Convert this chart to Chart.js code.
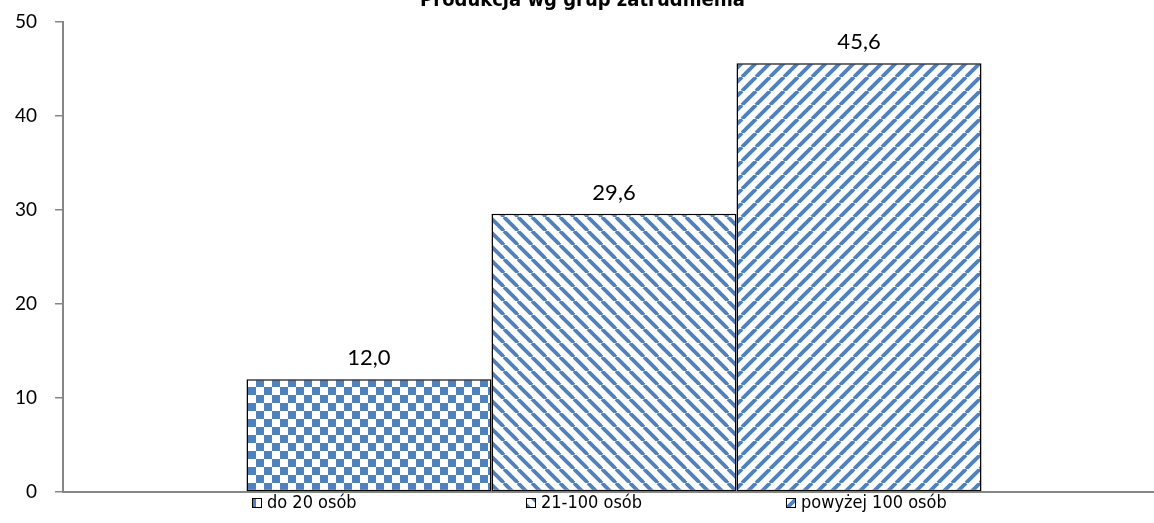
<!DOCTYPE html>
<html>
<head>
<meta charset="utf-8">
<script src="https://cdn.jsdelivr.net/npm/chart.js@4/dist/chart.umd.min.js"></script>
<style>
  html, body { margin: 0; padding: 0; background: #fff; overflow: hidden; width: 1154px; height: 523px; }
  #wrap { position: absolute; left: 0; top: -21px; width: 1170px; height: 551px; }
</style>
</head>
<body>
<div id="wrap"><canvas id="c" width="1170" height="551"></canvas></div>
<script>
// ---- data ----
const chartTitle = 'Produkcja wg grup zatrudnienia';
const categories = [''];
const seriesNames = ['do 20 osób', '21-100 osób', 'powyżej 100 osób'];
const seriesValues = [[12.0], [29.6], [45.6]];
const yTicks = [0, 10, 20, 30, 40, 50];

// ---- styles ----
const BLUE = '#4F81BD';
const AXIS = '#868686';

function makePattern(kind) {
  const c = document.createElement('canvas');
  const ctx = c.getContext('2d');
  if (kind === 'checker') {
    c.width = 16; c.height = 16;
    ctx.fillStyle = '#fff'; ctx.fillRect(0, 0, 16, 16);
    ctx.fillStyle = BLUE;
    ctx.fillRect(0, 0, 8, 8); ctx.fillRect(8, 8, 8, 8);
  } else {
    const s = 14;
    c.width = s; c.height = s;
    ctx.fillStyle = '#fff'; ctx.fillRect(0, 0, s, s);
    ctx.strokeStyle = BLUE; ctx.lineWidth = 3.8;
    for (const x0 of [-s, 0, s]) {
      ctx.beginPath();
      if (kind === 'down') { ctx.moveTo(x0, 0); ctx.lineTo(x0 + s, s); }
      else { ctx.moveTo(x0, s); ctx.lineTo(x0 + s, 0); }
      ctx.stroke();
    }
  }
  return document.getElementById('c').getContext('2d').createPattern(c, 'repeat');
}
const patterns = [makePattern('checker'), makePattern('down'), makePattern('up')];

const fmt = v => v.toFixed(1).replace('.', ',');

const labelPlugin = {
  id: 'vals',
  afterDatasetsDraw(chart) {
    const ctx = chart.ctx;
    ctx.save();
    ctx.font = '22px Lato';
    ctx.fillStyle = '#000';
    ctx.textAlign = 'center';
    ctx.textBaseline = 'middle';
    chart.data.datasets.forEach((ds, i) => {
      const meta = chart.getDatasetMeta(i);
      meta.data.forEach((bar, j) => {
        ctx.fillText(fmt(ds.data[j]), bar.x, bar.y - 21);
      });
    });
    ctx.restore();
  }
};

const legendX = [252, 526, 786];
const legendPlugin = {
  id: 'customLegend',
  afterDraw(chart) {
    const ctx = chart.ctx;
    const y = chart.chartArea.bottom + 11;
    ctx.save();
    ctx.font = '18px "DejaVu Sans Condensed"';
    ctx.textBaseline = 'middle';
    ctx.textAlign = 'left';
    chart.data.datasets.forEach((ds, i) => {
      const x = legendX[i];
      ctx.fillStyle = ds.backgroundColor;
      ctx.fillRect(x, y - 5, 10, 10);
      ctx.strokeStyle = '#000'; ctx.lineWidth = 1;
      ctx.strokeRect(x + 0.5, y - 4.5, 9, 9);
      ctx.fillStyle = '#000';
      ctx.fillText(ds.label, x + 15, y);
    });
    ctx.restore();
  }
};

new Chart(document.getElementById('c'), {
  type: 'bar',
  data: {
    labels: categories,
    datasets: seriesNames.map((n, i) => ({
      label: n,
      data: seriesValues[i],
      backgroundColor: patterns[i],
      borderColor: '#000',
      borderWidth: 1.5,
      borderSkipped: false,
      categoryPercentage: 0.667,
      barPercentage: 1.0
    }))
  },
  options: {
    responsive: false,
    animation: false,
    layout: { padding: { left: 0, right: 5, top: 6, bottom: 38 } },
    plugins: {
      legend: { display: false },
      tooltip: { enabled: false },
      title: {
        display: true,
        text: chartTitle,
        color: '#000',
        font: { family: '"DejaVu Sans Condensed"', size: 20, weight: 'bold' },
        padding: { top: 4, bottom: 9 }
      }
    },
    scales: {
      x: {
        ticks: { display: false },
        grid: { display: false },
        border: { color: AXIS, width: 2 },
        afterFit(s) { s.height = 0; }
      },
      y: {
        min: 0, max: 50,
        afterBuildTicks(s) { s.ticks = yTicks.map(v => ({ value: v })); },
        ticks: { color: '#000', font: { family: 'Lato', size: 19 }, padding: 18 },
        grid: { drawOnChartArea: false, drawTicks: true, tickLength: 8, color: AXIS, lineWidth: 1.5 },
        border: { color: AXIS, width: 2 },
        afterFit(s) { s.width = 63; }
      }
    }
  },
  plugins: [labelPlugin, legendPlugin]
});
</script>
</body>
</html>
